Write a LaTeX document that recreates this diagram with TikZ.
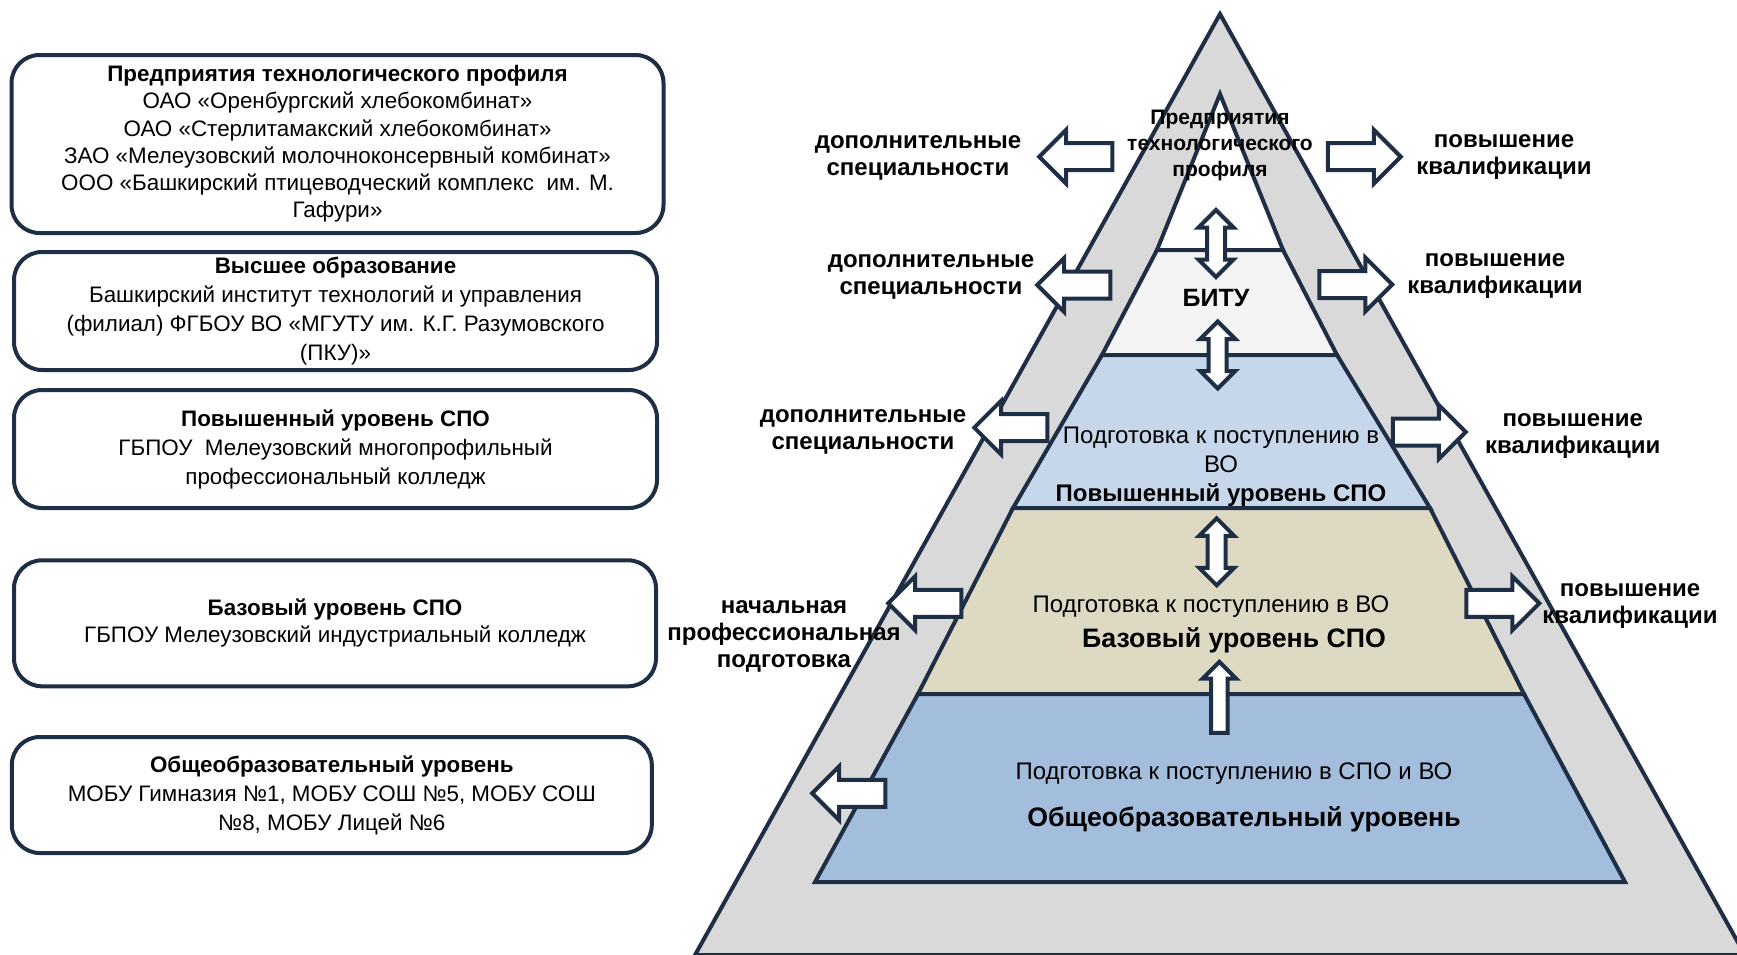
\documentclass[tikz,border=0pt]{standalone}
\usepackage{fontspec}
\setmainfont{Liberation Sans}
\usetikzlibrary{shapes.arrows,positioning}
\definecolor{navy}{HTML}{1E2F45}
\definecolor{greyband}{HTML}{D9D9D9}
\definecolor{lvlbitu}{HTML}{F4F4F4}
\definecolor{lvlhigh}{HTML}{C6D6EB}
\definecolor{lvlbase}{HTML}{DDD9C3}
\definecolor{lvlgen}{HTML}{A3BDDC}

\begin{document}
\begin{tikzpicture}[x=1pt, y=-1pt, line width=4pt,
	panel/.style={rectangle, rounded corners=28pt, draw=navy, fill=white, align=center,
	inner sep=0pt, font=\fontsize{22.4}{27.2}\selectfont},
	widepanel/.style={panel, font=\fontsize{22.4}{29}\selectfont},
	layer/.style={draw=navy, line join=miter},
	sidearrow/.style={single arrow, draw=navy, fill=white, inner sep=0pt, text height=23pt,
	text depth=0pt, minimum height=73pt, single arrow head extend=13.3pt},
	leftarrow/.style={sidearrow, rotate=180},
	updown/.style={double arrow, draw=navy, fill=white, inner sep=0pt, rotate=90, text height=14pt,
	text depth=0pt, minimum height=67pt, double arrow head extend=8.5pt},
	uparrow/.style={single arrow, draw=navy, fill=white, inner sep=0pt, rotate=90, text height=12.5pt,
	text depth=0pt, minimum height=71pt, single arrow head extend=8.5pt},
	lbl/.style={align=center, inner sep=0pt, font=\bfseries\fontsize{24}{27}\selectfont},
	ptxt/.style={align=center, inner sep=0pt, font=\fontsize{24}{29}\selectfont},
	ptitle/.style={align=center, inner sep=0pt, font=\bfseries\fontsize{26.7}{30}\selectfont}]
				\useasboundingbox (0,0) rectangle (1737,954);
				\node (box1) at (337.5,144) [panel, minimum width=652pt, minimum height=178pt]
				{{\bfseries Предприятия технологического профиля}\\ОАО «Оренбургский хлебокомбинат»\\
				ОАО «Стерлитамакский хлебокомбинат»\\ЗАО «Мелеузовский молочноконсервный комбинат»\\
				ООО «Башкирский птицеводческий комплекс\ \ им. М.\\Гафури»};
				\node (box2) at (335.5,311) [widepanel, minimum width=643pt, minimum height=118pt]
				{{\bfseries Высшее образование}\\Башкирский институт технологий и управления\\
				(филиал) ФГБОУ ВО «МГУТУ им. К.Г. Разумовского\\(ПКУ)»};
				\node (box3) at (335.5,449) [widepanel, minimum width=643pt, minimum height=118pt]
				{{\bfseries Повышенный уровень СПО}\\ГБПОУ\ \ Мелеузовский многопрофильный\\
				профессиональный колледж};
				\node (box4) at (335,623.3) [panel, minimum width=642pt, minimum height=126pt]
				{{\bfseries Базовый уровень СПО}\\ГБПОУ Мелеузовский индустриальный колледж};
				\node (box5) at (331.8,795) [widepanel, minimum width=640pt, minimum height=116pt]
				{{\bfseries Общеобразовательный уровень}\\МОБУ Гимназия №1, МОБУ СОШ №5, МОБУ СОШ\\
				№8, МОБУ Лицей №6};
				\draw [layer, fill=greyband] (1220,14) -- (695,955) -- (1745,955) -- cycle;
				\draw [layer, fill=white] (1220,94) -- (1157,250) -- (1283,250) -- cycle;
				\draw [layer, fill=lvlbitu] (1157,250) -- (1102,355) -- (1337,355) -- (1283,250) -- cycle;
				\draw [layer, fill=lvlhigh] (1102,355) -- (1013,508) -- (1430,508) -- (1337,355) -- cycle;
				\draw [layer, fill=lvlbase] (1013,508) -- (918,694) -- (1524,694) -- (1430,508) -- cycle;
				\draw [layer, fill=lvlgen] (918,694) -- (815,882) -- (1625,882) -- (1524,694) -- cycle;
				\node (al1) at (1082.5,156.7) [leftarrow] {};
				\node (al2) at (1080.5,285) [leftarrow] {};
				\node (al3) at (1017.5,427.6) [leftarrow] {};
				\node (al4) at (931.5,603.3) [leftarrow] {};
				\node (al5) at (855.5,793.3) [leftarrow] {};
				\node (ar1) at (1357.5,156.7) [sidearrow] {};
				\node (ar2) at (1349,284.5) [sidearrow] {};
				\node (ar3) at (1422.5,432) [sidearrow] {};
				\node (ar4) at (1496,603.3) [sidearrow] {};
				\node (av1) at (1216,243.5) [updown] {};
				\node (av2) at (1217.7,355) [updown] {};
				\node (av3) at (1216.7,551.8) [updown] {};
				\node (av4) at (1219.3,701.5) [uparrow] {};
				\node (ttop) at (1220,145) [align=center, inner sep=0pt,
				font=\bfseries\fontsize{21}{26}\selectfont] {Предприятия\\технологического\\профиля};
				\node (tbitu) at (1216,298) [font=\bfseries\fontsize{25}{30}\selectfont, inner sep=0pt] {БИТУ};
				\node (thigh) at (1221,466.5) [ptxt] {Подготовка к поступлению в\\ВО\\{\bfseries Повышенный уровень СПО}};
				\node (tbase) at (1211,607) [ptxt] {Подготовка к поступлению в ВО};
				\node (tbasett) at (1234,640) [ptitle] {Базовый уровень СПО};
				\node (tgen) at (1234,774) [ptxt] {Подготовка к поступлению в СПО и ВО};
				\node (tgentt) at (1244,819) [ptitle] {Общеобразовательный уровень};
				\node (dop1) at (918,157.5) [lbl] {дополнительные\\специальности};
				\node (dop2) at (931,276.5) [lbl] {дополнительные\\специальности};
				\node (dop3) at (863,432) [lbl] {дополнительные\\специальности};
				\node (nach) at (784,636) [lbl] {начальная\\профессиональная\\подготовка};
				\node (pov1) at (1504,157) [lbl] {повышение\\квалификации};
				\node (pov2) at (1495,276) [lbl] {повышение\\квалификации};
				\node (pov3) at (1572.7,436.5) [lbl] {повышение\\квалификации};
				\node (pov4) at (1630,606) [lbl] {повышение\\квалификации};
			\end{tikzpicture}
\end{document}
